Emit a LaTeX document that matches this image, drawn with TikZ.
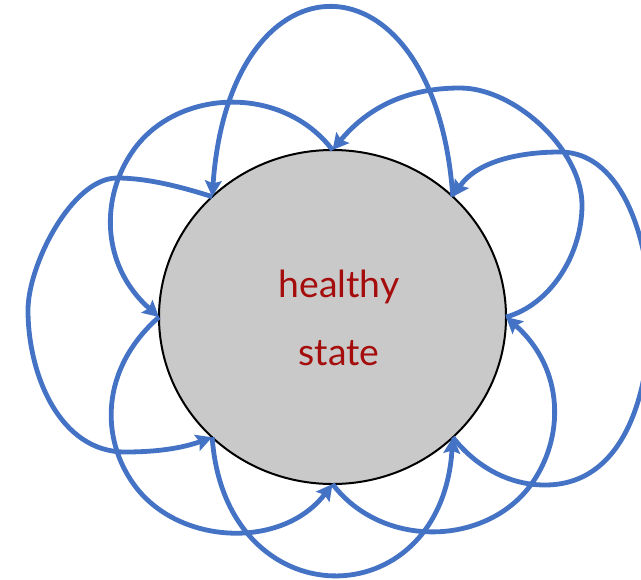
\documentclass[tikz,border=0pt]{standalone}
\usepackage{fontspec}
\setmainfont{Lato}
\usetikzlibrary{arrows.meta,shapes.geometric}
\definecolor{loopblue}{RGB}{68,114,196}
\definecolor{stategray}{RGB}{201,201,201}
\definecolor{statered}{RGB}{165,12,12}
\begin{document}
\begin{tikzpicture}[x=0.75pt,y=-0.75pt,
  loopline/.style={draw=loopblue, line width=3.6pt,
    -{Stealth[length=12pt,width=12.5pt,inset=2pt]}},
  statebody/.style={ellipse, draw=black, line width=1.5pt, fill=stategray,
    minimum width=260.25pt, minimum height=250.5pt, inner sep=0pt, outer sep=0pt},
  statetext/.style={text=statered, anchor=base, font=\fontsize{28pt}{30pt}\selectfont}]
\useasboundingbox (0,0) rectangle (641,579);
\node[statebody] (hs) at (332.5,317) {};
\node[statetext] (w1) at (339,297) {healthy};
\node[statetext] (w2) at (339,365) {state};
% top big loop
\draw[loopline] (hs.45) .. controls (435,-55) and (230,-55) .. (hs.135);
% left big loop
\draw[loopline] (hs.135) .. controls (182,187) and (147,178) .. (117,178)
  .. controls (72,178) and (28,265) .. (28,310)
  .. controls (28,375) and (60,452) .. (125,452)
  .. controls (165,452) and (188,446) .. (hs.225);
% bottom big loop
\draw[loopline] (hs.225) .. controls (225,620) and (441,620) .. (hs.315);
% right big loop
\draw[loopline] (hs.315) .. controls (473,463) and (505,485) .. (545,485)
  .. controls (625,485) and (650,392) .. (650,312)
  .. controls (650,247) and (625,152) .. (560,152)
  .. controls (520,152) and (477,161) .. (hs.45);
% top-left small loop
\draw[loopline] (hs.90) .. controls (283,85) and (180,88) .. (135,148)
  .. controls (100,195) and (100,265) .. (hs.180);
% bottom-left small loop
\draw[loopline] (hs.180) .. controls (100,369) and (100,439) .. (135,486)
  .. controls (180,546) and (283,549) .. (hs.270);
% bottom-right small loop
\draw[loopline] (hs.270) .. controls (382,549) and (485,546) .. (530,486)
  .. controls (565,439) and (565,369) .. (hs.0);
% top-right small loop
\draw[loopline] (hs.0) .. controls (550,305) and (582,255) .. (582,205)
  .. controls (582,150) and (515,88) .. (460,88)
  .. controls (410,88) and (370,105) .. (hs.90);
\end{tikzpicture}
\end{document}
